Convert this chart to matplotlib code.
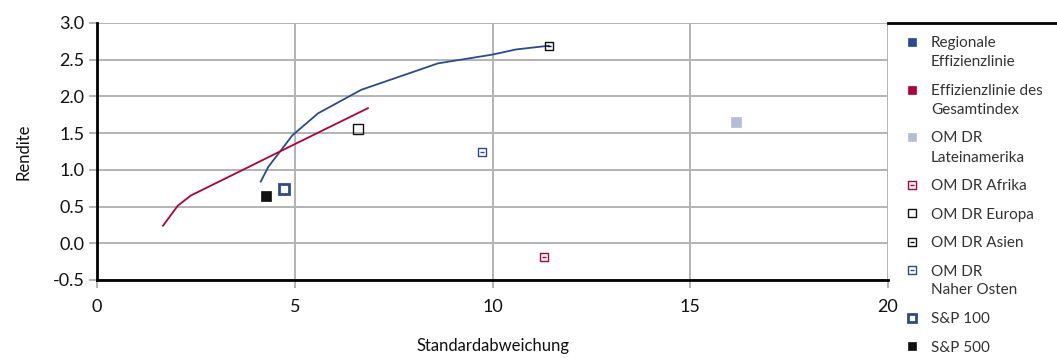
import matplotlib
matplotlib.use("Agg")
import matplotlib.pyplot as plt
from matplotlib.path import Path
from matplotlib.lines import Line2D

plt.rcParams['font.family'] = ['Lato', 'DejaVu Sans']

# ---- data ----
reg_x = [4.14, 4.33, 4.94, 5.59, 6.68, 7.65, 8.62, 10.0, 10.6, 11.42]
reg_y = [0.84, 1.04, 1.47, 1.77, 2.09, 2.27, 2.45, 2.57, 2.64, 2.69]
ges_x = [1.67, 2.04, 2.37, 3.5, 5.0, 6.85]
ges_y = [0.24, 0.51, 0.65, 0.95, 1.35, 1.84]
point_names = ["OM DR\nLateinamerika", "OM DR Afrika", "OM DR Europa", "OM DR Asien",
               "OM DR\nNaher Osten", "S&P 100", "S&P 500"]
point_x = [16.15, 11.29, 6.6, 11.42, 9.74, 4.72, 4.28]
point_y = [1.65, -0.19, 1.55, 2.69, 1.24, 0.74, 0.64]
line_names = ["Regionale\nEffizienzlinie", "Effizienzlinie des\nGesamtindex"]
xticks = [0, 5, 10, 15, 20]
yticks = [-0.5, 0.0, 0.5, 1.0, 1.5, 2.0, 2.5, 3.0]

BLUE = '#2a4b8e'
RED = '#b2003b'
LBLUE = '#b4bcda'
BLACK = '#111111'

minus_box = Path([(-1, -1), (1, -1), (1, 1), (-1, 1), (-1, -1), (-0.45, 0), (0.45, 0)],
                 [Path.MOVETO, Path.LINETO, Path.LINETO, Path.LINETO, Path.CLOSEPOLY,
                  Path.MOVETO, Path.LINETO])

point_styles = [
    dict(marker='s', mfc=LBLUE, mec=LBLUE, ms=7.2, mew=0.5),
    dict(marker=minus_box, mfc='none', mec=RED, ms=6.2, mew=1.0),
    dict(marker='s', mfc='none', mec=BLACK, ms=6.6, mew=1.0),
    dict(marker=minus_box, mfc='none', mec=BLACK, ms=6.2, mew=1.0),
    dict(marker=minus_box, mfc='none', mec=BLUE, ms=6.2, mew=1.0),
    dict(marker='s', mfc='none', mec=BLUE, ms=6.6, mew=2.0),
    dict(marker='s', mfc=BLACK, mec=BLACK, ms=6.6, mew=0.5),
]

W, H = 1057, 358
fig = plt.figure(figsize=(W / 100, H / 100), dpi=100)
ax = fig.add_axes([97 / W, 1 - 280 / H, (888 - 97) / W, (280 - 23) / H])

ax.plot(reg_x, reg_y, color=BLUE, lw=1.3, zorder=3)
ax.plot(ges_x, ges_y, color=RED, lw=1.3, zorder=3)
for x, y, st in zip(point_x, point_y, point_styles):
    ax.plot([x], [y], ls='none', zorder=4, **st)

ax.set_xlim(0, 20)
ax.set_ylim(-0.5, 3.0)
ax.set_xticks(xticks)
ax.set_xticklabels([str(t) for t in xticks])
ax.set_yticks(yticks)
ax.set_yticklabels([f"{t:.1f}" for t in yticks])
ax.grid(True, color='#b3b3b3', lw=1.4)
ax.set_axisbelow(True)
for s in ['top', 'right']:
    ax.spines[s].set_visible(False)
ax.spines['left'].set_linewidth(2.0)
ax.spines['bottom'].set_linewidth(2.0)
ax.spines['left'].set_color('black')
ax.spines['bottom'].set_color('black')
ax.tick_params(axis='both', direction='out', length=6, width=1.4, color='#b3b3b3',
               labelsize=13, labelcolor='#111111')
ax.tick_params(axis='x', pad=8)
ax.tick_params(axis='y', pad=3)
ax.set_xlabel("Standardabweichung", fontsize=12, labelpad=16, color='#111111')
ax.set_ylabel("Rendite", fontsize=12, labelpad=15, color='#111111')

# top separator line over legend
fig.add_artist(Line2D([888 / W, 1.0], [1 - 23 / H, 1 - 23 / H], color='black', lw=2.0))

# ---- manual legend ----
legend_names = line_names + point_names
legend_styles = [
    dict(marker='s', mfc=BLUE, mec=BLUE, ms=6.2, mew=0.5),
    dict(marker='s', mfc=RED, mec=RED, ms=6.2, mew=0.5),
] + point_styles
legend_styles[2] = dict(marker='s', mfc=LBLUE, mec=LBLUE, ms=6.2, mew=0.5)

cursor = 42.0
line_h = 19.0
gap = 28.5
for name, st in zip(legend_names, legend_styles):
    st2 = dict(st)
    st2['ms'] = min(st2['ms'], 6.3)
    fig.add_artist(Line2D([912 / W], [1 - cursor / H], ls='none', **st2))
    lines = name.split("\n")
    for i, ln in enumerate(lines):
        yy = cursor + i * line_h
        fig.text(931 / W, 1 - (yy + 5.5) / H, ln, fontsize=11, color='#333333',
                 va='baseline', ha='left')
    cursor += (len(lines) - 1) * line_h + gap

fig.savefig("out.png", dpi=100)
